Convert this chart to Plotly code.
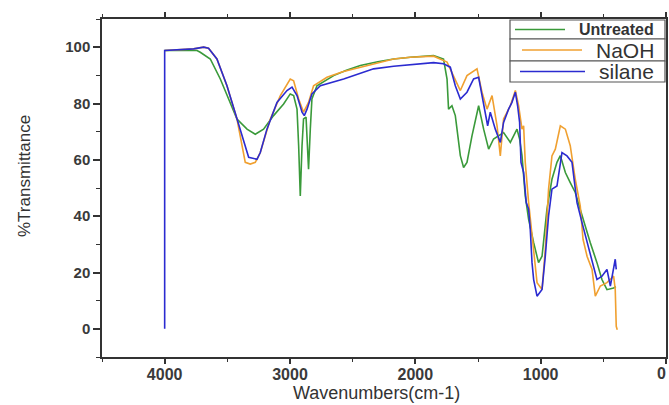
import plotly.graph_objects as go

# ---------------- data ----------------
untreated_wn = [4000, 3742, 3716, 3636, 3556, 3476, 3423, 3343, 3277, 3211, 3131, 3051, 2998, 2971,
                2944, 2931, 2918, 2904, 2892, 2872, 2864, 2852, 2838, 2825, 2785, 2652, 2550, 2439,
                2300, 2173, 2040, 1854, 1775, 1747, 1735, 1708, 1681, 1641, 1615, 1588, 1548, 1495,
                1455, 1415, 1376, 1336, 1296, 1242, 1189, 1168, 1149, 1123, 1096, 1056, 1017, 989,
                950, 910, 870, 843, 803, 764, 724, 684, 644, 604, 551, 511, 471, 418, 400]
untreated_t = [98.8, 98.8, 98.2, 95.8, 88.7, 80.5, 74.5, 70.9, 69.1, 70.9, 75.7, 79.8, 83.4, 82.8,
               78.0, 65.0, 47.2, 65.0, 74.5, 75.2, 68.5, 56.7, 70.9, 81.6, 86.3, 89.9, 91.8, 93.5,
               94.8, 95.8, 96.4, 97.0, 95.8, 88.7, 78.0, 79.2, 75.7, 61.5, 57.3, 59.1, 68.5, 79.2,
               70.9, 63.8, 67.4, 68.5, 69.7, 66.2, 70.9, 67.4, 61.5, 47.2, 38.9, 30.6, 23.5, 25.8,
               42.4, 53.1, 59.1, 61.5, 55.5, 51.9, 48.4, 42.4, 36.4, 30.6, 23.5, 17.5, 13.9, 14.5,
               15.0]

naoh_wn = [4000, 3769, 3689, 3650, 3583, 3503, 3423, 3357, 3317, 3277, 3237, 3157, 3077, 2998,
           2971, 2931, 2892, 2852, 2812, 2705, 2580, 2439, 2300, 2173, 2040, 1854, 1747, 1695,
           1641, 1588, 1508, 1468, 1428, 1388, 1348, 1322, 1296, 1242, 1202, 1176, 1149, 1136,
           1123, 1096, 1056, 1029, 989, 963, 937, 910, 883, 843, 803, 764, 724, 684, 662, 630,
           590, 564, 524, 471, 418, 405, 397, 389]
naoh_t = [98.8, 99.4, 100.0, 99.6, 95.8, 86.3, 74.5, 59.1, 58.5, 59.1, 62.6, 74.5, 82.8, 88.7,
          88.1, 81.6, 76.9, 80.4, 86.3, 89.3, 91.3, 92.9, 94.6, 95.8, 96.4, 96.8, 94.7, 89.9,
          84.6, 89.9, 92.3, 84.0, 78.0, 82.8, 72.1, 61.4, 74.5, 79.2, 84.6, 79.2, 70.9, 72.1,
          59.1, 44.8, 28.2, 16.4, 14.0, 28.2, 49.6, 61.4, 63.8, 72.1, 70.9, 65.0, 53.1, 43.6,
          31.8, 25.8, 21.1, 11.6, 15.2, 16.4, 18.7, 14.0, 0.9, -0.3]

silane_wn = [4000, 4000, 3769, 3689, 3650, 3583, 3503, 3423, 3357, 3330, 3263, 3237, 3184, 3104,
             3024, 2984, 2944, 2904, 2886, 2864, 2825, 2758, 2572, 2450, 2333, 2173, 2040, 1854,
             1775, 1721, 1681, 1641, 1588, 1535, 1495, 1468, 1442, 1423, 1402, 1362, 1322, 1296,
             1256, 1229, 1202, 1184, 1168, 1157, 1136, 1115, 1096, 1083, 1069, 1056, 1029, 989,
             963, 937, 910, 870, 830, 790, 750, 710, 670, 630, 590, 551, 511, 471, 444, 418, 405,
             397]
silane_t = [0.0, 98.8, 99.4, 100.0, 99.6, 95.8, 86.3, 74.5, 65.0, 60.9, 60.2, 62.6, 70.9, 80.4,
            84.6, 85.8, 82.8, 76.9, 75.7, 78.0, 83.4, 86.3, 88.7, 90.6, 92.3, 93.2, 93.7, 94.5,
            94.1, 92.9, 86.3, 81.6, 84.0, 88.7, 89.3, 82.8, 76.9, 72.1, 76.9, 70.9, 66.2, 73.3,
            78.0, 80.4, 84.0, 79.2, 73.3, 59.1, 55.5, 44.8, 42.5, 35.3, 23.5, 17.5, 11.6, 14.0,
            25.8, 40.1, 49.6, 50.7, 62.6, 61.4, 59.1, 44.8, 37.7, 30.6, 23.5, 17.5, 18.7, 21.1,
            15.2, 21.1, 24.7, 21.1]

series_names = ["Untreated", "NaOH", "silane"]
series_colors = ["#3a9a3a", "#f0a030", "#2b2bd0"]

x_tickvals = [4000, 3000, 2000, 1000]
x_ticktext = ["4000", "3000", "2000", "1000"]
x_edge_label = "0"
y_tickvals = [0, 20, 40, 60, 80, 100]

# ---------------- figure ----------------
W, H = 669, 405
L, R, T, B = 102, 3, 19, 48
pw, ph = W - L - R, H - T - B


def px(x):
    return (x - L) / pw


def py(y):
    return (H - B - y) / ph


fig = go.Figure()
for wn, tr, name, col in zip([untreated_wn, naoh_wn, silane_wn],
                             [untreated_t, naoh_t, silane_t],
                             series_names, series_colors):
    fig.add_trace(go.Scatter(x=wn, y=tr, mode="lines", name=name,
                             line=dict(color=col, width=1.6), showlegend=False))

axis_col = "#333333"
FONT = "Liberation Sans, Arial, sans-serif"
tickfont = dict(family=FONT, size=16, color="#3a3a3a", weight="bold")

fig.update_layout(
    width=W, height=H, template="none",
    margin=dict(l=L, r=R, t=T, b=B, pad=0),
    paper_bgcolor="white", plot_bgcolor="white",
    font=dict(family=FONT),
    xaxis=dict(range=[4500, 0], tickvals=x_tickvals + [0], ticktext=x_ticktext + [""],
               showgrid=False, zeroline=False, showline=True, linecolor=axis_col, linewidth=1.5,
               mirror="ticks", ticks="outside", ticklen=5, tickwidth=1.5, tickcolor=axis_col,
               ticklabelstandoff=-3,
               minor=dict(dtick=500, tick0=0, ticks="outside", ticklen=3, tickwidth=1.2,
                          tickcolor=axis_col, showgrid=False),
               tickfont=tickfont, automargin=False),
    yaxis=dict(range=[-10, 110], tickvals=y_tickvals,
               showgrid=False, zeroline=False, showline=True, linecolor=axis_col, linewidth=1.5,
               mirror=True, ticks="outside", ticklen=7, tickwidth=1.5, tickcolor=axis_col,
               minor=dict(dtick=10, tick0=0, ticks="outside", ticklen=4, tickwidth=1.2,
                          tickcolor=axis_col, showgrid=False),
               tickfont=dict(family=FONT, size=15, color="#3a3a3a", weight="bold"),
               automargin=False),
)

# right-edge "0" tick label
fig.add_annotation(x=px(668), y=py(373), xref="paper", yref="paper", showarrow=False,
                   text=x_edge_label, xanchor="right", yanchor="middle", font=tickfont)

# axis titles
fig.add_annotation(x=px(376), y=py(392.5), xref="paper", yref="paper", showarrow=False,
                   text="Wavenumbers(cm-1)", xanchor="center", yanchor="middle",
                   font=dict(family=FONT, size=18, color="#333333"))
fig.add_annotation(x=px(24), y=py(176), xref="paper", yref="paper", showarrow=False,
                   text="%Transmittance", textangle=-90, xanchor="center", yanchor="middle",
                   font=dict(family="Liberation Sans Narrow, Liberation Sans, Arial, sans-serif",
                             size=17, color="#333333"))

# custom legend box
leg_x0, leg_x1 = 510, 665
rows = [(20, 39), (39, 61), (61, 82)]
line_spans = [(515, 565), (522, 582), (520, 585)]
leg_fonts = [dict(size=16, weight="bold"), dict(size=21), dict(size=21)]
for (y0, y1), (lx0, lx1), name, col, f in zip(rows, line_spans, series_names, series_colors, leg_fonts):
    fig.add_shape(type="rect", xref="paper", yref="paper",
                  x0=px(leg_x0), x1=px(leg_x1), y0=py(y1), y1=py(y0),
                  line=dict(color="#555555", width=1.2), fillcolor="white", layer="above")
    yc = (y0 + y1) / 2
    fig.add_shape(type="line", xref="paper", yref="paper",
                  x0=px(lx0), x1=px(lx1), y0=py(yc), y1=py(yc),
                  line=dict(color=col, width=1.5), layer="above")
    fig.add_annotation(x=px(656), y=py(yc), xref="paper", yref="paper", showarrow=False,
                       text=name, xanchor="right", yanchor="middle",
                       font=dict(family=FONT, color="#333333", **f))

fig.write_html("out.html")
